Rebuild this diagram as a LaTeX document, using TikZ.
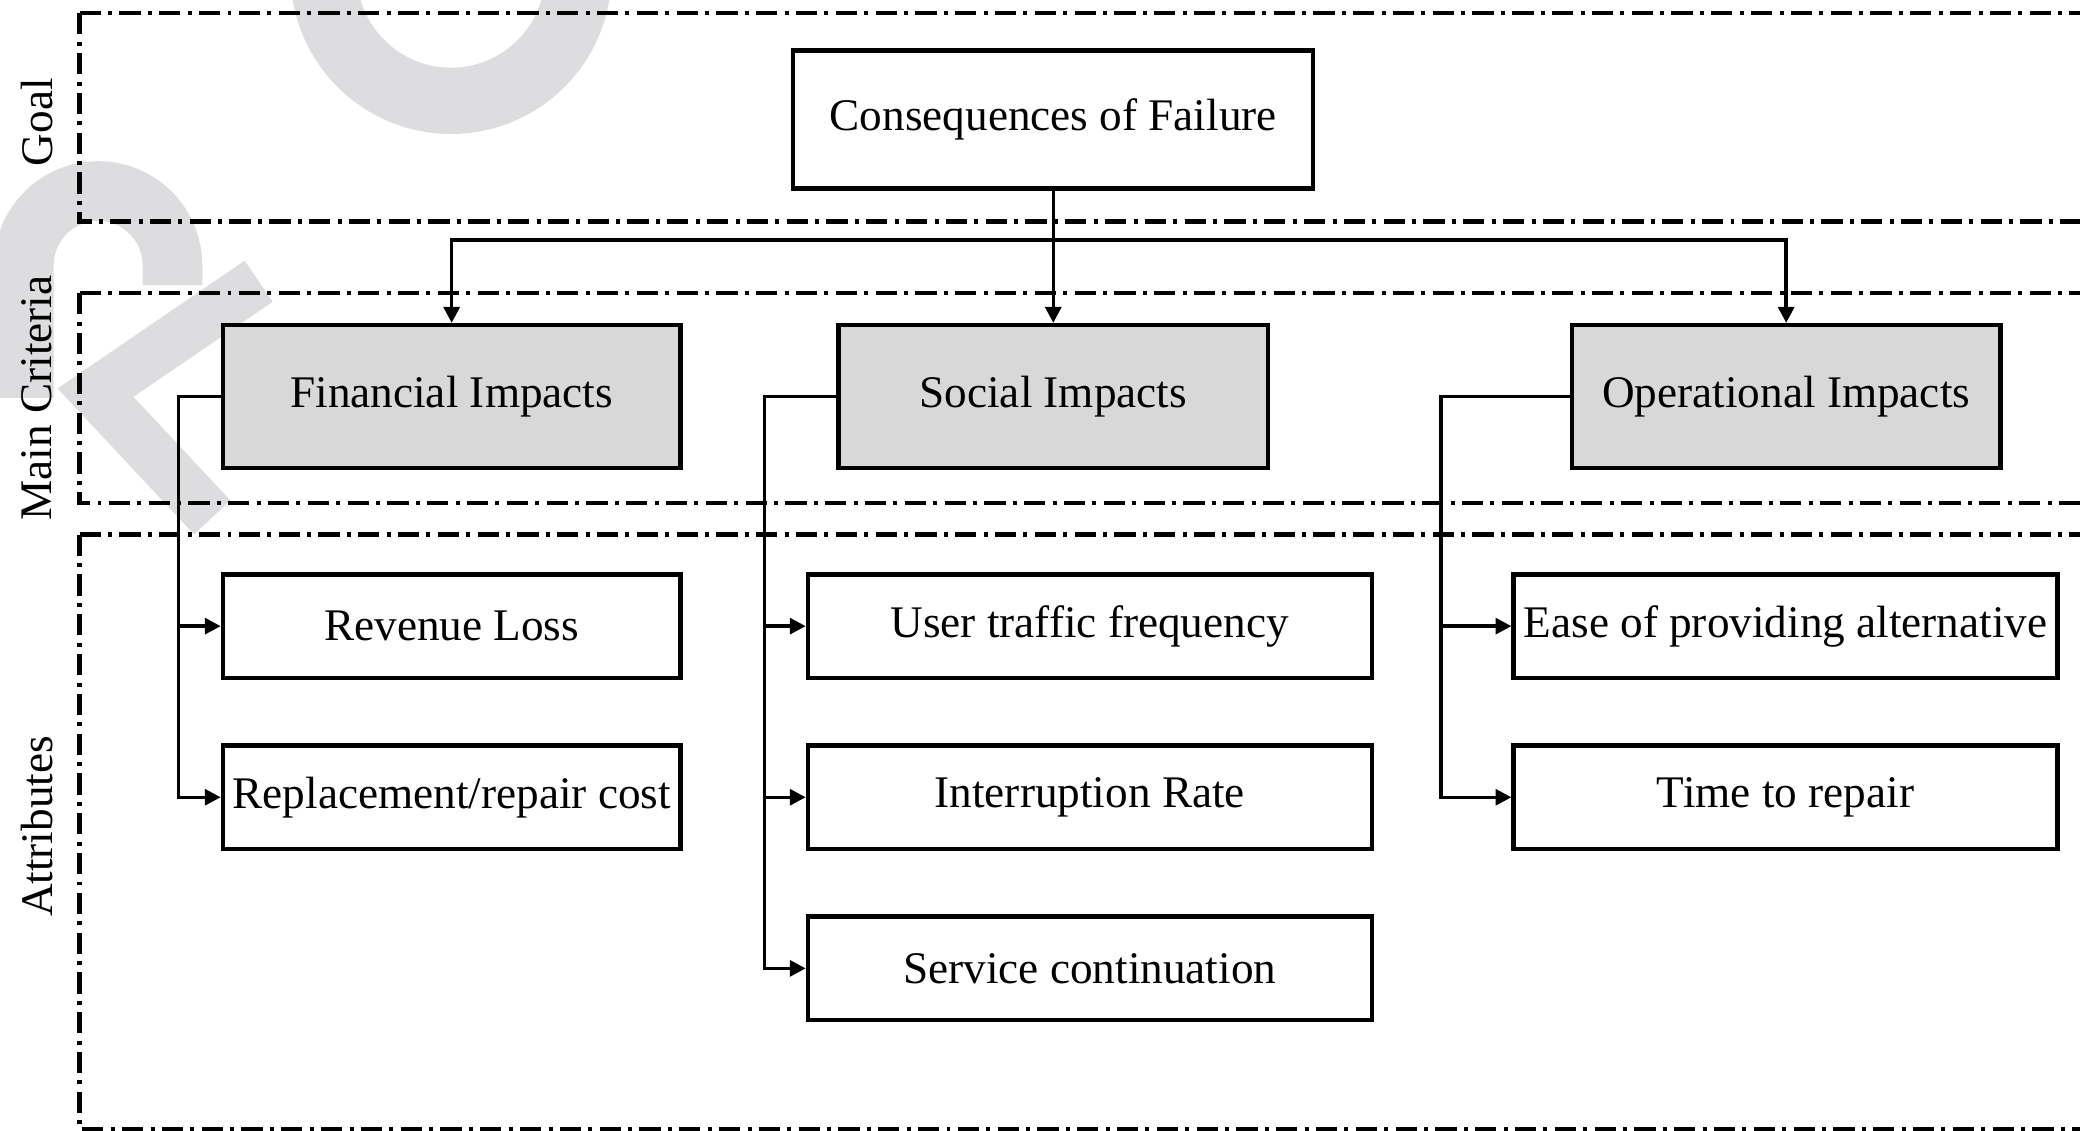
\documentclass[tikz,border=0pt]{standalone}
\usepackage{fontspec}
\setmainfont{Liberation Serif}
\usetikzlibrary{arrows.meta}
\definecolor{boxGray}{HTML}{D8D8D8}
\definecolor{markGray}{HTML}{DDDDE0}

\begin{document}
\begin{tikzpicture}[x=0.2mm, y=-0.2mm, >={Triangle[length=2.4mm,width=2.4mm]},
    font=\fontsize{19.4}{23}\selectfont]

    \tikzset{
        band/.style={line width=0.65mm, dash pattern=on 3.2mm off 1.1mm on 0.6mm off 1.1mm},
        goalbox/.style={draw, line width=0.65mm, minimum width=78.4mm, minimum height=20.8mm, inner sep=0pt},
        critbox/.style={draw, fill=boxGray, line width=0.65mm, minimum height=21.6mm, inner sep=0pt},
        attrbox/.style={draw, line width=0.65mm, minimum height=15.6mm, inner sep=0pt},
        link/.style={line width=0.52mm},
        level/.style={rotate=90}
    }

    \useasboundingbox (0,0) rectangle (1568,852);

    % faint watermark strokes, behind everything else
    \begin{scope}[markGray]
    \draw[line width=10mm] (436,-20) arc (0:180:96);
    \draw[line width=9mm] (18,300) -- (18,200) arc (180:360:56) -- (130,215);
    \draw[line width=7.5mm] (195,212) -- (72,296) -- (160,390);
    \end{scope}

    % dash-dot frames of the three levels, open on the right
    \draw[band] (60,10) -- (1575,10);
    \draw[band] (60,10) -- (60,167) -- (1575,167);
    \draw[band] (60,221) -- (1575,221);
    \draw[band] (60,221) -- (60,379) -- (1575,379);
    \draw[band] (60,403) -- (1575,403);
    \draw[band] (60,403) -- (60,851) -- (1575,851);

    % level names
    \node[level] (goal) at (28,92) {Goal};
    \node[level] (main) at (28,300) {Main Criteria};
    \node[level] (attr) at (28,623) {Attributes};

    % goal and main criteria
    \node[goalbox] (cof) at (794,90) {Consequences of Failure};
    \node[critbox, minimum width=69mm] (fin) at (340.5,299) {Financial Impacts};
    \node[critbox, minimum width=64.8mm] (soc) at (794,299) {Social Impacts};
    \node[critbox, minimum width=64.6mm] (ops) at (1346.5,299) {Operational Impacts};

    % attributes
    \node[attrbox, minimum width=69mm] (rev) at (340.5,472) {Revenue Loss};
    \node[attrbox, minimum width=69mm] (rep) at (340.5,601) {Replacement/repair cost};
    \node[attrbox, minimum width=85mm] (usr) at (821.5,472) {User traffic frequency};
    \node[attrbox, minimum width=85mm] (intr) at (821.5,601) {Interruption Rate};
    \node[attrbox, minimum width=85mm] (svc) at (821.5,730) {Service continuation};
    \node[attrbox, minimum width=82mm] (ease) at (1346,472) {Ease of providing alternative};
    \node[attrbox, minimum width=82mm] (rpr) at (1346,601) {Time to repair};

    % goal -> criteria
    \coordinate (bus) at (794,181);
    \draw[link, ->] (cof.south) -- (soc.north);
    \draw[link, ->] (bus) -| (fin.north);
    \draw[link, ->] (bus) -| (ops.north);

    % criteria -> attributes
    \draw[link, ->] (fin.west) -- ++(-32,0) |- (rev.west);
    \draw[link, ->] (fin.west) -- ++(-32,0) |- (rep.west);
    \draw[link, ->] (soc.west) -- ++(-54,0) |- (usr.west);
    \draw[link, ->] (soc.west) -- ++(-54,0) |- (intr.west);
    \draw[link, ->] (soc.west) -- ++(-54,0) |- (svc.west);
    \draw[link, ->] (ops.west) -- ++(-97,0) |- (ease.west);
    \draw[link, ->] (ops.west) -- ++(-97,0) |- (rpr.west);

\end{tikzpicture}
\end{document}
